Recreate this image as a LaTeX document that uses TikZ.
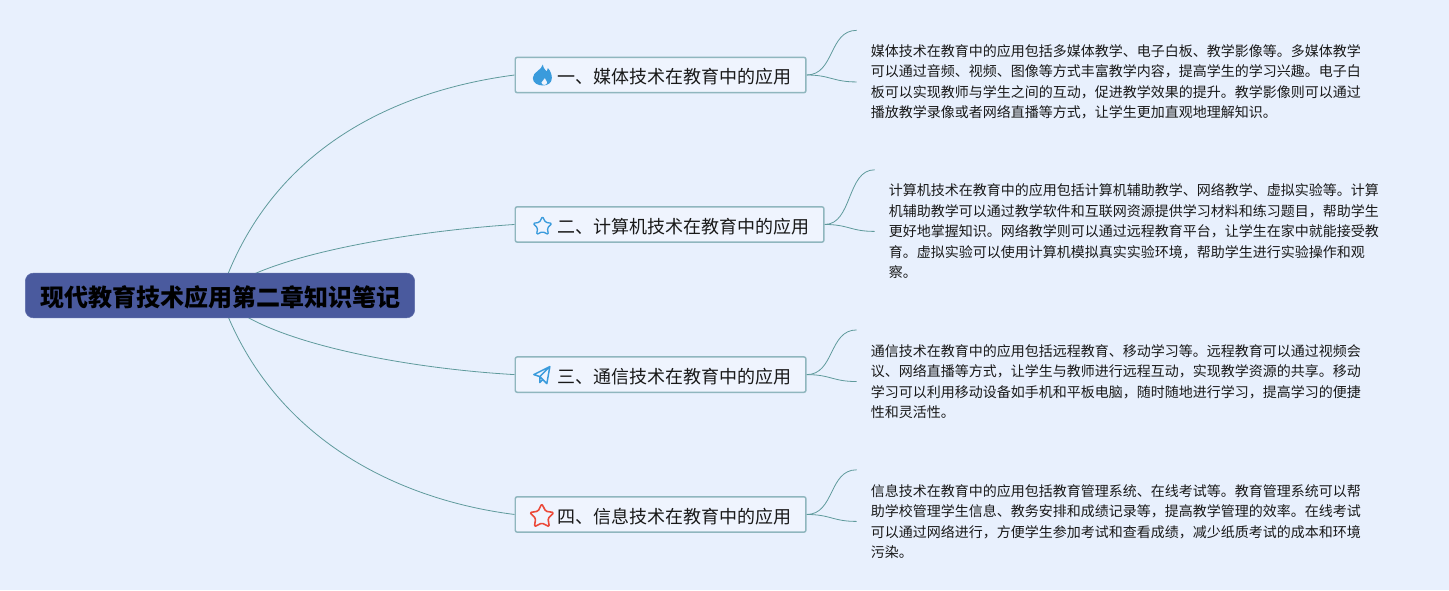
\documentclass[tikz,border=0pt]{standalone}
\usepackage{fontspec}
\setmainfont{Noto Sans CJK SC}
\usetikzlibrary{positioning,calc,backgrounds,shapes.geometric}
\definecolor{pagebg}{HTML}{E8F0FD}
\definecolor{rootfill}{HTML}{4A5A9E}
\definecolor{topicline}{HTML}{8FB6BE}
\definecolor{branchline}{HTML}{5F9A9C}
\definecolor{iconblue}{HTML}{3A9BDC}
\definecolor{iconred}{HTML}{EB4A3A}

\begin{document}
\begin{tikzpicture}[
    x=0.75pt, y=-0.75pt,
    root/.style={draw=rootfill!90!white, fill=rootfill, rounded corners=6pt, minimum width=292pt, minimum height=33.5pt, inner sep=0pt, font=\fontsize{18pt}{22pt}\selectfont\bfseries},
    topic/.style={draw=topicline, line width=1.1pt, fill=pagebg!70!white, rounded corners=1.5pt, minimum height=26.5pt, inner xsep=10.5pt, inner ysep=0pt, align=right, font=\fontsize{13.5pt}{16pt}\selectfont, text=black!90},
    leaf/.style={inner xsep=10.5pt, inner ysep=0pt, align=left, anchor=west, font=\fontsize{10.5pt}{15.4pt}\selectfont, text=black!90},
    branch/.style={draw=branchline, line width=0.6pt},
    staricon/.style={star, star points=5, star point ratio=1.95, inner sep=0pt, rounded corners=1pt, line join=round}
]
    \useasboundingbox (0,0) rectangle (1449,590);

    \node[root] (main) at (220,295.5) {\rule{0pt}{18.2pt}现代教育技术应用第二章知识笔记};

    \node[topic, text width=197pt, anchor=west] (t1) at (514.5,75) {\rule{0pt}{14.2pt}一、媒体技术在教育中的应用};
    \node[topic, text width=210.5pt, below=84.5pt of t1.south west, anchor=north west] (t2) {\rule{0pt}{14.2pt}二、计算机技术在教育中的应用};
    \node[topic, text width=197pt, below=85pt of t2.south west, anchor=north west] (t3) {\rule{0pt}{14.2pt}三、通信技术在教育中的应用};
    \node[topic, text width=197pt, below=77.3pt of t3.south west, anchor=north west] (t4) {\rule{0pt}{14.2pt}四、信息技术在教育中的应用};

    \node[leaf, right=37.5pt of t1, yshift=-5.2pt] (l1) {媒体技术在教育中的应用包括多媒体教学、电子白板、教学影像等。多媒体教学\\可以通过音频、视频、图像等方式丰富教学内容，提高学生的学习兴趣。电子白\\板可以实现教师与学生之间的互动，促进教学效果的提升。教学影像则可以通过\\播放教学录像或者网络直播等方式，让学生更加直观地理解知识。};
    \node[leaf, right=37.5pt of t2, yshift=-5.2pt] (l2) {计算机技术在教育中的应用包括计算机辅助教学、网络教学、虚拟实验等。计算\\机辅助教学可以通过教学软件和互联网资源提供学习材料和练习题目，帮助学生\\更好地掌握知识。网络教学则可以通过远程教育平台，让学生在家中就能接受教\\育。虚拟实验可以使用计算机模拟真实实验环境，帮助学生进行实验操作和观\\察。};
    \node[leaf, right=37.5pt of t3, yshift=-5.2pt] (l3) {通信技术在教育中的应用包括远程教育、移动学习等。远程教育可以通过视频会\\议、网络直播等方式，让学生与教师进行远程互动，实现教学资源的共享。移动\\学习可以利用移动设备如手机和平板电脑，随时随地进行学习，提高学习的便捷\\性和灵活性。};
    \node[leaf, right=37.5pt of t4, yshift=-5.2pt] (l4) {信息技术在教育中的应用包括教育管理系统、在线考试等。教育管理系统可以帮\\助学校管理学生信息、教务安排和成绩记录等，提高教学管理的效率。在线考试\\可以通过网络进行，方便学生参加考试和查看成绩，减少纸质考试的成本和环境\\污染。};

    \coordinate[above=38.7pt of l1.west] (u1);
    \coordinate[above=46.2pt of l2.west] (u2);
    \coordinate[above=38.7pt of l3.west] (u3);
    \coordinate[above=38.7pt of l4.west] (u4);

    \begin{scope}[on background layer]
        \fill[pagebg] (0,0) rectangle (1449,590);
        \draw[branch] (main.center) .. controls (270,145) and (400,90) .. (t1.west);
        \draw[branch] (main.center) .. controls (255,258) and (400,232) .. (t2.west);
        \draw[branch] (main.center) .. controls (255,340) and (400,368) .. (t3.west);
        \draw[branch] (main.center) .. controls (270,440) and (400,500) .. (t4.west);
        \foreach \i in {1,2,3,4} {
            \draw[branch] (t\i.east) .. controls ($(t\i.east)+(28,0)$) and ($(u\i)+(-28,0)$) .. (u\i);
            \draw[branch] (t\i.east) .. controls ($(t\i.east)+(24,0)$) and ($(l\i.west)+(-24,0)$) .. (l\i.west);
        }
    \end{scope}

    \coordinate[right=20.5pt of t1.west] (i1);
    \begin{scope}[shift={(i1)}]
        \fill[iconblue, even odd rule] (1,-10.5) .. controls (1.5,-6) and (4,-5) .. (5,-3.5)
            .. controls (6,-4.5) and (6,-6) .. (6,-7)
            .. controls (9,-4) and (10,0) .. (10,3)
            .. controls (10,8) and (6,10.5) .. (1,10.5)
            .. controls (-4,10.5) and (-9,8) .. (-9,3)
            .. controls (-9,-3) and (0,-5) .. cycle
            (3,3) .. controls (3.5,5) and (5.5,6) .. (5.5,7.5)
            .. controls (5.5,9) and (4,10) .. (2.5,10)
            .. controls (1,10) and (-0.5,9) .. (-0.5,7.5)
            .. controls (-0.5,6) and (2.5,5) .. cycle;
    \end{scope}

    \node[staricon, right=21pt of t2.west, anchor=center, yshift=-1.5pt, draw=iconblue, line width=1pt, minimum size=15pt] (i2) {};

    \coordinate[right=20.5pt of t3.west] (i3);
    \draw[iconblue, line width=1.1pt, line join=round] ($(i3)+(8,-8)$) -- ($(i3)+(-8,0)$) -- ($(i3)+(-2,2)$) -- ($(i3)+(8,-8)$) -- ($(i3)+(5,9)$) -- ($(i3)+(-2,2)$) -- ($(i3)+(-2,8)$) -- ($(i3)+(1,5)$);

    \node[staricon, right=20.5pt of t4.west, anchor=center, yshift=-1.5pt, draw=iconred, line width=1.2pt, minimum size=19pt] (i4) {};
\end{tikzpicture}
\end{document}
